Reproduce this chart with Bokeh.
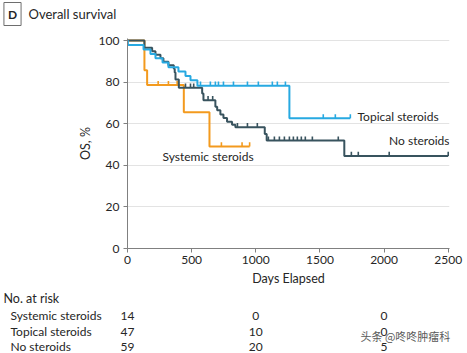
import numpy as np
from bokeh.plotting import figure
from bokeh.layouts import column, row
from bokeh.models import Range1d, Label, FixedTicker
from bokeh.embed import file_html
from bokeh.resources import INLINE
from bokeh.core.properties import value

# ---------------- data ----------------
systemic_days = [0, 132, 153, 439, 639, 952]
systemic_surv = [100, 85.7, 78.6, 65.5, 49.1, 49.1]
systemic_cens = [239, 319, 387, 732, 893, 952]

topical_days = [0, 3, 125, 179, 218, 273, 319, 397, 452, 491, 545, 1262, 1737]
topical_surv = [100, 97.9, 95.7, 93.6, 91.5, 89.4, 87.2, 85.1, 83.0, 80.9, 78.3, 62.6, 62.6]
topical_cens = [569, 646, 685, 709, 748, 826, 935, 1020, 1129, 1168, 1231, 1526, 1620, 1737]

none_days = [0, 132, 192, 218, 257, 280, 319, 361, 368, 374, 400, 582, 592, 685, 699,
             724, 748, 776, 815, 841, 1070, 1085, 1690, 2500]
none_surv = [100, 96.6, 94.9, 93.2, 91.5, 89.8, 88.1, 86.4, 84.7, 81.3, 77.3, 74.5, 71.3,
             68.2, 66.5, 64.5, 62.8, 61.0, 59.5, 58.3, 55.1, 51.9, 44.5, 44.5]
none_cens = [452, 491, 516, 628, 664, 857, 935, 1012, 1098, 1145, 1184, 1223, 1262, 1293,
             1324, 1355, 1386, 1441, 1643, 1745, 1799, 2040, 2500]

x_ticks = [0, 500, 1000, 1500, 2000, 2500]
y_ticks = [0, 20, 40, 60, 80, 100]

risk_days = [0, 1000, 2000]
risk_groups = ["Systemic steroids", "Topical steroids", "No steroids"]
risk_systemic = [14, 0, 0]
risk_topical = [47, 10, 0]
risk_none = [59, 20, 5]

# ---------------- styling ----------------
C_SYS = "#F39A1E"
C_TOP = "#27A9E1"
C_NONE = "#38535E"
FONT = "Lato"
TXT = "#262626"

W = 467
HEAD_H = 30
X0, X1 = 0, 2510
Y0, Y1 = 0, 101
FW, FH = 322, 210
LEFT = 127
TOP = 38 - HEAD_H
BOTTOM = 42
MAIN_H = TOP + FH + BOTTOM
RISK_H = 353 - HEAD_H - MAIN_H


def dx(px):
    return X0 + (px - LEFT) / FW * (X1 - X0)


def dy(py):
    return Y1 - (py - 38) / FH * (Y1 - Y0)


def step_value(days, surv, t):
    v = surv[0]
    for d, s in zip(days, surv):
        if d <= t:
            v = s
    return v


def bare(h, yr0, yr1, xr):
    f = figure(width=W, height=h, min_border=0, x_range=xr, y_range=Range1d(yr0, yr1),
               x_axis_location=None, y_axis_location=None,
               output_backend="svg", toolbar_location=None)
    f.outline_line_color = None
    f.grid.visible = False
    f.background_fill_color = "white"
    f.border_fill_color = "white"
    return f


# ---------------- header ----------------
head = bare(HEAD_H, HEAD_H, 0, Range1d(0, W))
head.add_layout(Label(x=12, y=13.5, text="D", text_align="center", text_baseline="middle",
                      text_font=FONT, text_font_size="12px", text_font_style="bold", text_color=TXT,
                      border_line_color="#6e6e6e", border_line_width=1,
                      background_fill_color="white", padding=4))
head.text(x=[28], y=[13], text=["Overall survival"], text_align="left", text_baseline="middle",
          text_font=value(FONT), text_font_size="13px", text_color=TXT)

# ---------------- main plot ----------------
p = figure(frame_width=FW, frame_height=FH,
           min_border_left=LEFT, min_border_right=W - LEFT - FW,
           min_border_top=TOP, min_border_bottom=BOTTOM,
           x_range=Range1d(X0, X1), y_range=Range1d(Y0, Y1),
           output_backend="svg", toolbar_location=None)
p.outline_line_color = None
p.background_fill_color = "white"
p.border_fill_color = "white"

p.xgrid.visible = False
p.ygrid.grid_line_color = "#e3e3e3"
p.ygrid.grid_line_width = 1

for ax in (p.xaxis, p.yaxis):
    ax.axis_line_color = "#808080"
    ax.major_tick_line_color = "#808080"
    ax.minor_tick_line_color = None
    ax.major_tick_out = 4
    ax.major_tick_in = 0
    ax.major_label_text_font = FONT
    ax.major_label_text_font_size = "12px"
    ax.major_label_text_color = TXT
    ax.axis_label_text_font = FONT
    ax.axis_label_text_font_size = "12.5px"
    ax.axis_label_text_font_style = "normal"
    ax.axis_label_text_color = TXT

p.xaxis.ticker = FixedTicker(ticks=x_ticks)
p.yaxis.ticker = FixedTicker(ticks=y_ticks)
p.xaxis.major_label_standoff = 3
p.yaxis.major_label_standoff = 4
p.xaxis.axis_label = "Days Elapsed"
p.yaxis.axis_label = "OS, %"
p.xaxis.axis_label_standoff = 4
p.yaxis.axis_label_standoff = 3

series = [
    (systemic_days, systemic_surv, systemic_cens, C_SYS),
    (none_days, none_surv, none_cens, C_NONE),
    (topical_days, topical_surv, topical_cens, C_TOP),
]
for days, surv, cens, col in series:
    p.step(days, surv, mode="after", line_color=col, line_width=2)
    cy = [step_value(days, surv, t) for t in cens]
    p.segment(x0=cens, y0=cy, x1=cens, y1=[v + 2.0 for v in cy], line_color=col, line_width=1.6)


def lab(text, px, py, align="left"):
    p.add_layout(Label(x=dx(px), y=dy(py), text=text, text_align=align, text_baseline="middle",
                       text_font=FONT, text_font_size="12px", text_color=TXT))


lab("Topical steroids", 357, 116)
lab("No steroids", 449, 140, align="right")
lab("Systemic steroids", 162, 156)

# ---------------- risk table ----------------
risk_top = HEAD_H + MAIN_H
risk = bare(RISK_H, 353, risk_top, Range1d(dx(0), dx(W)))
risk.text(x=[dx(3)], y=[298], text=["No. at risk"], text_align="left", text_baseline="middle",
          text_font=value(FONT), text_font_size="12.5px", text_color=TXT)
row_y = [315, 331, 346]
for name, vals, ry in zip(risk_groups, [risk_systemic, risk_topical, risk_none], row_y):
    risk.text(x=[dx(10)], y=[ry], text=[name], text_align="left", text_baseline="middle",
              text_font=value(FONT), text_font_size="12px", text_color=TXT)
    risk.text(x=risk_days, y=[ry] * len(risk_days), text=[str(v) for v in vals],
              text_align="center", text_baseline="middle",
              text_font=value(FONT), text_font_size="12px", text_color=TXT)
risk.text(x=[dx(360)], y=[335], text=["头条 @咚咚肿瘤科"], text_align="left", text_baseline="middle",
          text_font=value("Noto Sans CJK SC"), text_font_size="11px", text_color="#5a5a5a")

layout = column(row(head), row(p), row(risk), spacing=0)
open("out.html", "w").write(file_html(layout, INLINE))
